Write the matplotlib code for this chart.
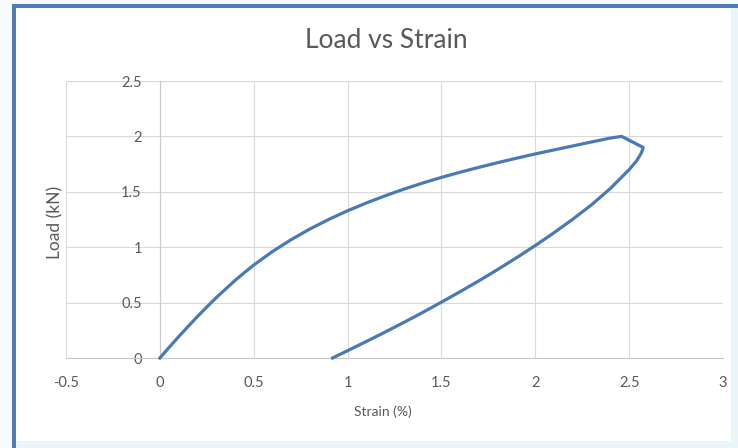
import matplotlib
matplotlib.use("Agg")
import matplotlib.pyplot as plt
from matplotlib.patches import Rectangle

# load-strain loop
# loading branch up to the peak
load_strain = [0, 0.05, 0.1, 0.15, 0.2, 0.25, 0.3, 0.35, 0.4, 0.45, 0.5, 0.6,
               0.7, 0.8, 0.9, 1.0, 1.1, 1.2, 1.3, 1.4, 1.5, 1.6, 1.7, 1.8, 1.9,
               2.0, 2.1, 2.2, 2.3, 2.4, 2.46]
load_kn = [0, 0.097, 0.192, 0.284, 0.374, 0.46, 0.544, 0.622, 0.699, 0.77, 0.839,
           0.961, 1.069, 1.165, 1.251, 1.329, 1.399, 1.464, 1.524, 1.579, 1.63,
           1.677, 1.721, 1.763, 1.803, 1.842, 1.878, 1.914, 1.95, 1.985, 2.0]
# unloading branch back to zero load
unload_strain = [2.575, 2.565, 2.54, 2.5, 2.4, 2.3, 2.2, 2.1, 2.0, 1.9, 1.8, 1.7,
                 1.6, 1.5, 1.4, 1.3, 1.2, 1.1, 1.0, 0.92]
unload_kn = [1.9, 1.85, 1.78, 1.70, 1.53, 1.383, 1.253, 1.131, 1.015, 0.905,
             0.799, 0.697, 0.599, 0.504, 0.411, 0.321, 0.234, 0.149, 0.066, 0.0]

x_ticks = [-0.5, 0, 0.5, 1, 1.5, 2, 2.5, 3]
x_labels = ["-0.5", "0", "0.5", "1", "1.5", "2", "2.5", "3"]
y_ticks = [0, 0.5, 1, 1.5, 2, 2.5]
y_labels = ["0", "0.5", "1", "1.5", "2", "2.5"]

W, H = 738, 448
plt.rcParams["font.family"] = ["Lato", "DejaVu Sans"]
TEXT = "#595959"
LINE = "#4a7ab5"

fig = plt.figure(figsize=(W / 100, H / 100), dpi=100, facecolor="#f7fbfc")


def px_rect(x0, y0, x1, y1, **kw):
    # rectangle given in picture pixels (origin top left)
    r = Rectangle((x0 / W, 1 - y1 / H), (x1 - x0) / W, (y1 - y0) / H,
                  transform=fig.transFigure, **kw)
    fig.add_artist(r)
    return r


# chart frame: blue border, light blue outside the chart area
px_rect(14, 6, 760, 470, facecolor="#eaf5fa", edgecolor="#4f7db5",
        linewidth=2.9, zorder=0)
px_rect(16, 8, 731, 441, facecolor="white", edgecolor="none", zorder=0)

ax = fig.add_axes([66 / W, 1 - 358 / H, (723 - 66) / W, (358 - 81) / H])
ax.set_facecolor("none")

ax.plot(load_strain + unload_strain, load_kn + unload_kn, color=LINE,
        linewidth=2.3, solid_joinstyle="round", zorder=3, clip_on=False)

ax.set_xlim(-0.5, 3)
ax.set_ylim(0, 2.5)
ax.set_xticks(x_ticks, x_labels)
ax.set_yticks(y_ticks, y_labels)

ax.grid(True, color="#d9d9d9", linewidth=0.8)
ax.set_axisbelow(True)

for s in ["top", "right"]:
    ax.spines[s].set_visible(False)
ax.spines["left"].set_position(("data", 0))
ax.spines["left"].set_color("#c8c8c8")
ax.spines["bottom"].set_color("#c8c8c8")
ax.spines["left"].set_linewidth(0.8)
ax.spines["bottom"].set_linewidth(0.8)

ax.tick_params(axis="both", length=0, labelsize=10.5, labelcolor=TEXT)
ax.tick_params(axis="y", pad=13)
ax.tick_params(axis="x", pad=13)

fig.text(386 / W, 1 - 40 / H, "Load vs Strain", ha="center", va="center",
         fontsize=19, color=TEXT)
fig.text(383 / W, 1 - 412 / H, "Strain (%)", ha="center", va="center",
         fontsize=10, color=TEXT)
fig.text(55 / W, 1 - 222 / H, "Load (kN)", ha="center", va="center",
         rotation=90, fontsize=12.5, color=TEXT)

fig.savefig("out.png", dpi=100, facecolor=fig.get_facecolor())
